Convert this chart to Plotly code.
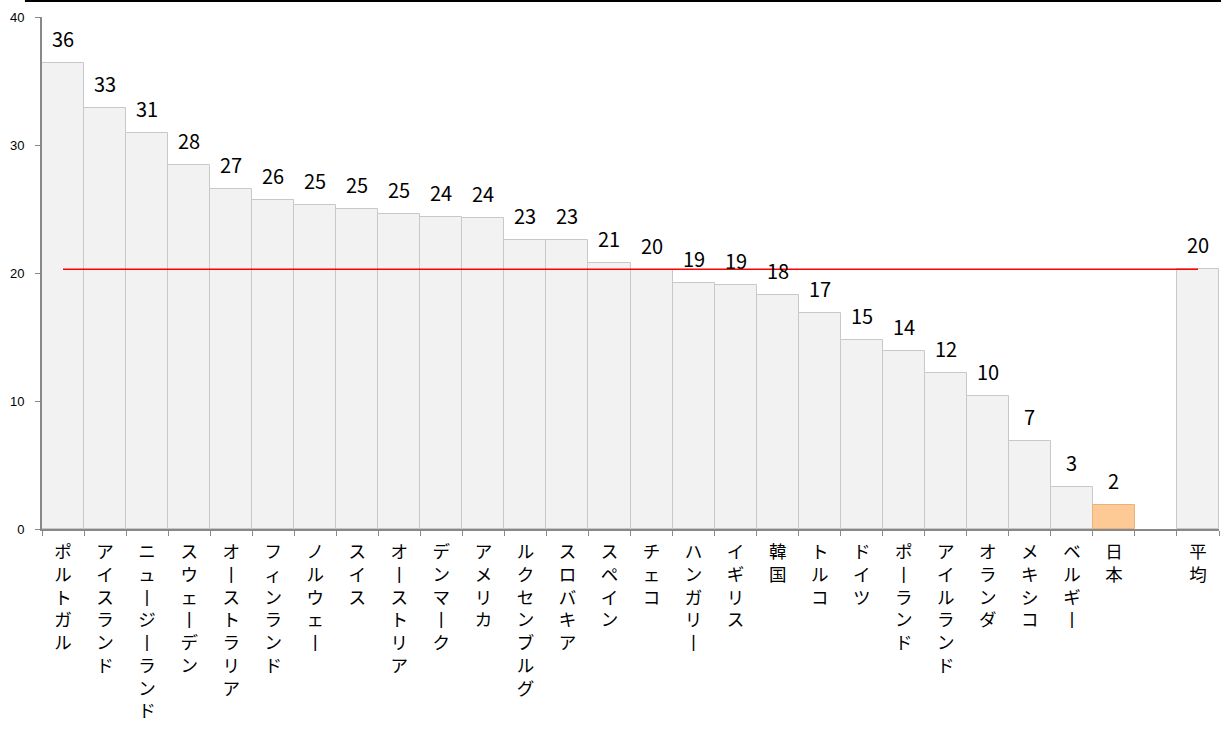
import plotly.graph_objects as go

countries = ["ポルトガル", "アイスランド", "ニュージーランド", "スウェーデン", "オーストラリア",
             "フィンランド", "ノルウェー", "スイス", "オーストリア", "デンマーク", "アメリカ",
             "ルクセンブルグ", "スロバキア", "スペイン", "チェコ", "ハンガリー", "イギリス",
             "韓国", "トルコ", "ドイツ", "ポーランド", "アイルランド", "オランダ", "メキシコ",
             "ベルギー", "日本"]
values = [36.4, 32.9, 30.9, 28.4, 26.6, 25.7, 25.3, 25.0, 24.6, 24.4, 24.3,
          22.6, 22.6, 20.8, 20.2, 19.2, 19.1, 18.3, 16.9, 14.8, 13.9, 12.2, 10.4, 6.9,
          3.3, 1.9]
avg_label = "平均"
avg_value = 20.3
gap_label = " "

y_ticks = [0, 10, 20, 30, 40]

cats = countries + [gap_label, avg_label]
vals = values + [None, avg_value]

GRAY = "#f2f2f2"
GRAY_EDGE = "#c8c8c8"
JP = "#fdca96"
JP_EDGE = "#e6b27e"

fill = [JP if c == "日本" else GRAY for c in cats]
edge = [JP_EDGE if c == "日本" else GRAY_EDGE for c in cats]


def vert(s):
    return "<br>".join("丨" if ch == "ー" else ch for ch in s)


ticktext = [vert(c) if c.strip() else "" for c in cats]

fig = go.Figure()
fig.add_trace(go.Bar(
    x=cats, y=vals,
    marker=dict(color=fill, line=dict(color=edge, width=1)),
    hoverinfo="skip",
))
fig.add_trace(go.Scatter(
    x=[cats[0], avg_label], y=[avg_value, avg_value],
    mode="lines", line=dict(color="#ff0000", width=1.5),
    hoverinfo="skip",
))

for c, v in zip(cats, vals):
    if v is None:
        continue
    fig.add_annotation(x=c, y=v, text=f"{round(v):d}", showarrow=False,
                       yanchor="bottom", yshift=8,
                       font=dict(size=20, color="black", family="Noto Sans CJK JP"))

fig.add_shape(type="line", xref="paper", yref="paper",
              x0=-0.0145, x1=1.01, y0=1.0312, y1=1.0312,
              line=dict(color="black", width=2))

fig.update_layout(
    width=1221, height=729,
    margin=dict(l=42, r=2, t=17, b=200),
    plot_bgcolor="white", paper_bgcolor="white",
    bargap=0, showlegend=False,
    font=dict(family="Noto Sans CJK JP", color="black"),
)
fig.update_xaxes(
    type="category", categoryorder="array", categoryarray=cats,
    tickmode="array", tickvals=cats, ticktext=ticktext,
    tickangle=0, tickson="boundaries", ticks="outside", ticklen=5,
    tickcolor="#888888", showline=True, linecolor="#888888", linewidth=2,
    showgrid=False, tickfont=dict(size=17.5, color="black", family="Noto Sans CJK JP"),
    ticklabelstandoff=6,
    fixedrange=True,
)
fig.update_yaxes(
    range=[0, 40], tickvals=y_ticks, ticks="outside", ticklen=5,
    tickcolor="#888888", showline=True, linecolor="#888888", linewidth=2,
    showgrid=False, zeroline=False, ticklabelstandoff=8,
    tickfont=dict(size=13, color="black", family="Liberation Sans"),
    fixedrange=True,
)

fig.write_html("out.html")
